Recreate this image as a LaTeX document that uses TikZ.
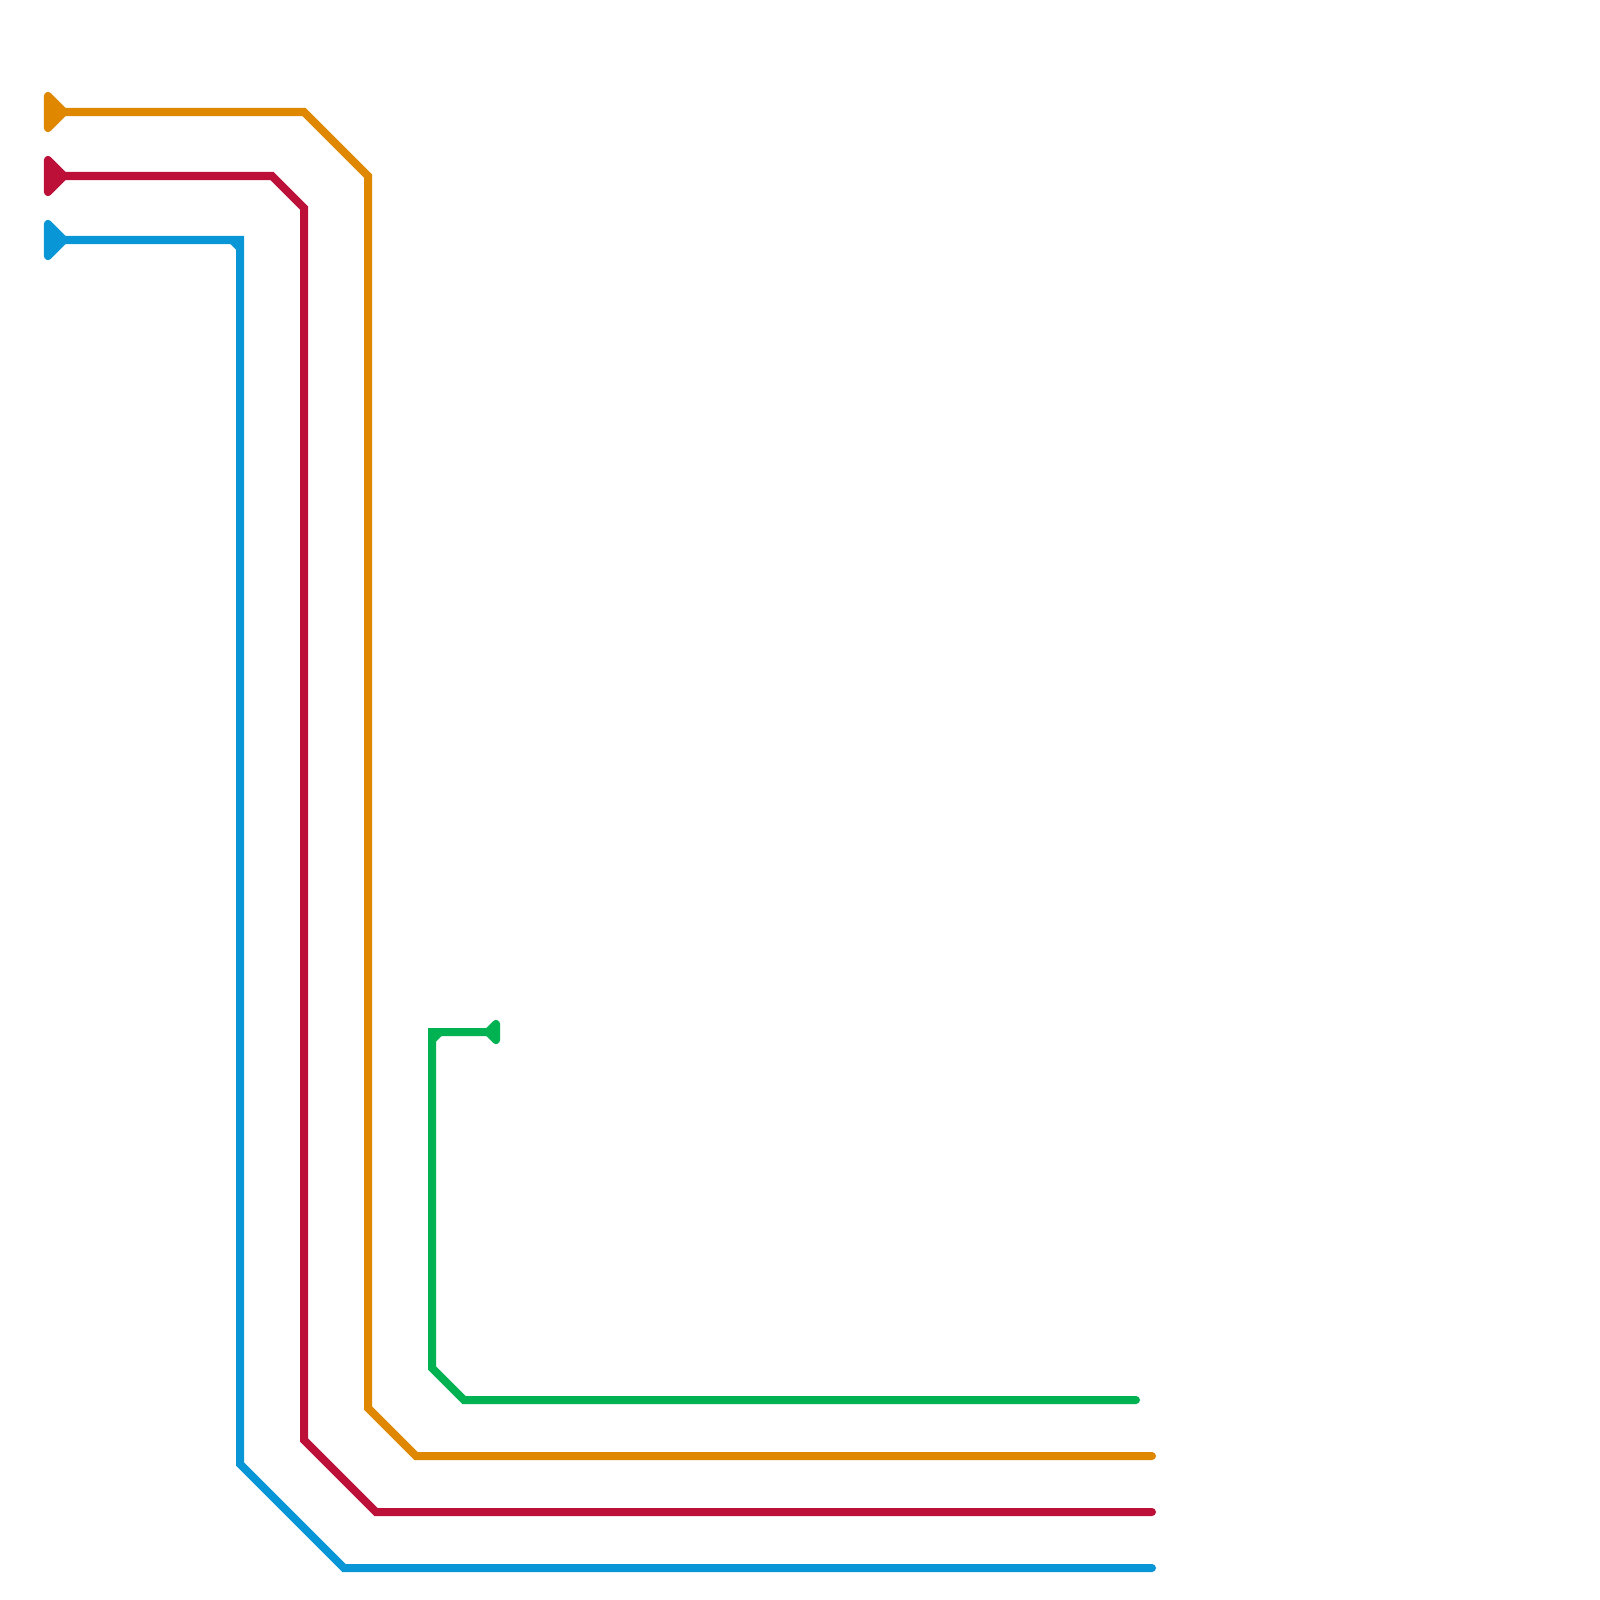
\documentclass[tikz,border=0pt]{standalone}
\definecolor{lineorange}{HTML}{E08700}
\definecolor{linered}{HTML}{BD1038}
\definecolor{lineblue}{HTML}{0896D7}
\definecolor{linegreen}{HTML}{00B251}

\begin{document}
\begin{tikzpicture}[
  x=0.01cm, y=-0.01cm,
  route/.style={line width=0.08cm, line cap=round, line join=miter},
  terminal/.style={route, line join=round, fill}
]
\useasboundingbox (0,0) rectangle (1600,1600);

% start points
\coordinate (orangestart) at (64,112);
\coordinate (redstart) at (64,176);
\coordinate (bluestart) at (64,240);
\coordinate (greenstart) at (488,1032);

% end points
\coordinate (orangeend) at (1152,1456);
\coordinate (redend) at (1152,1512);
\coordinate (blueend) at (1152,1568);
\coordinate (greenend) at (1136,1400);

% orange line
\draw[terminal, lineorange] (48,96) -- (orangestart) -- (48,128) -- cycle;
\draw[route, lineorange] (orangestart) -- (304,112) -- (368,176) -- (368,1408) -- (416,1456) -- (orangeend);

% red line
\draw[terminal, linered] (48,160) -- (redstart) -- (48,192) -- cycle;
\draw[route, linered] (redstart) -- (272,176) -- (304,208) -- (304,1440) -- (376,1512) -- (redend);

% blue line
\draw[terminal, lineblue] (48,224) -- (bluestart) -- (48,256) -- cycle;
\draw[route, lineblue] (bluestart) -- (240,240) -- (240,1464) -- (344,1568) -- (blueend);
\draw[route, lineblue] (232,240) -- (240,248);

% green line
\draw[terminal, linegreen] (496,1024) -- (greenstart) -- (496,1040) -- cycle;
\draw[route, linegreen] (greenstart) -- (432,1032) -- (432,1368) -- (464,1400) -- (greenend);
\draw[route, linegreen] (432,1040) -- (440,1032);

\end{tikzpicture}
\end{document}
